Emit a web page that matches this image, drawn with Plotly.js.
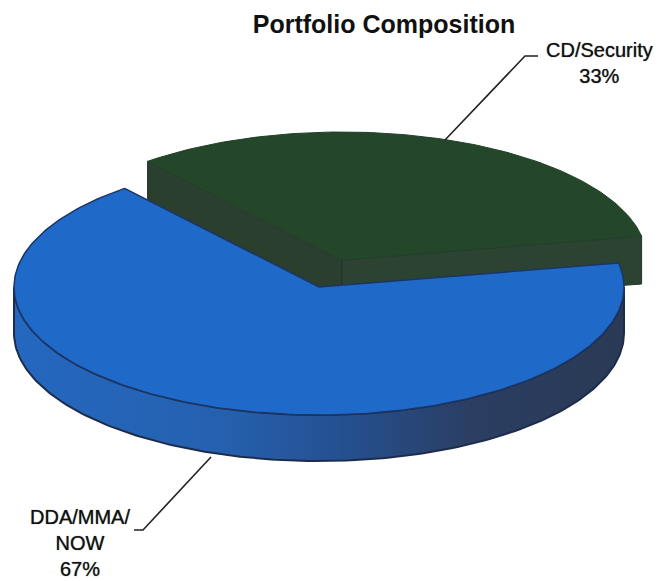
<!DOCTYPE html>
<html><head><meta charset="utf-8">
<script src="https://cdn.plot.ly/plotly-3.0.1.min.js"></script>
<style>html,body{margin:0;padding:0;background:#fff}#c{width:660px;height:581px}</style>
</head><body><div id="c"></div>
<script>
const categories = ["CD/Security", "DDA/MMA/<br>NOW"];
const shares = [33, 67];
const chartTitle = "Portfolio Composition";

const RX = 305, RY = 128, DEPTH = 46;
const startDeg = 10.8;
const centres = [[342, 260], [319, 287]];
const sweep = shares.map(s => s / (shares[0] + shares[1]) * 360);
const rng0 = [startDeg, startDeg + sweep[0]];
const rng1 = [rng0[1], rng0[1] + sweep[1]];

function arc(c, a0, a1, dy) {
  const xs = [], ys = [];
  const n = Math.ceil(Math.abs(a1 - a0));
  for (let i = 0; i <= n; i++) {
    const t = (a0 + (a1 - a0) * i / n) * Math.PI / 180;
    xs.push(c[0] + RX * Math.cos(t));
    ys.push(c[1] - RY * Math.sin(t) + dy);
  }
  return [xs, ys];
}
function poly(x, y, fill, line, name, width, grad) {
  const t = {type: "scatter", mode: "lines", x, y, fill: "toself", name,
    line: {color: line, width: width}, hoverinfo: "name", showlegend: false};
  if (grad) t.fillgradient = grad; else t.fillcolor = fill;
  return t;
}
const traces = [];

// green slice: cut walls, then top face
const [gx, gy] = arc(centres[0], rng0[0], rng0[1], 0);
const gA = [gx[gx.length - 1], gy[gy.length - 1]], gB = [gx[0], gy[0]], gC = centres[0];
traces.push(poly([gA[0], gC[0], gC[0], gA[0], gA[0]],
  [gA[1], gC[1], gC[1] + DEPTH, gA[1] + DEPTH, gA[1]], "#2a3f2e", "#22352a", categories[0], 1));
traces.push(poly([gC[0], gB[0], gB[0], gC[0], gC[0]],
  [gC[1], gB[1], gB[1] + DEPTH + 2, gC[1] + DEPTH, gC[1]], "#2c4331", "#22352a", categories[0], 1));
traces.push(poly(gx.concat([gC[0], gx[0]]), gy.concat([gC[1], gy[0]]), "#24472b", "#22402a", categories[0], 1));

// blue slice: curved wall, then top face
const [wx0, wy0] = arc(centres[1], 180, 360, 0);
const [wx1, wy1] = arc(centres[1], 360, 180, DEPTH);
traces.push(poly(wx0.concat(wx1, [wx0[0]]), wy0.concat(wy1, [wy0[0]]), null, "#1d2c4a", categories[1], 2, {
  type: "horizontal",
  colorscale: [[0, "#2468c0"], [0.35, "#2560ae"], [0.55, "#254f8e"], [0.75, "#2b3e62"], [1, "#2a3a55"]]
}));
const [bx, by] = arc(centres[1], rng1[0], rng1[1], 0);
traces.push(poly(bx.concat([centres[1][0], bx[0]]), by.concat([centres[1][1], by[0]]), "#1f69c9", "#1b3566", categories[1], 1.5));

// leader lines
const leaderX = [[445, 525, 538], [211, 143, 134]];
const leaderY = [[140, 56, 56], [457, 530, 530]];
leaderX.forEach((lx, i) => traces.push({type: "scatter", mode: "lines", x: lx, y: leaderY[i],
  line: {color: "#222", width: 1.6}, hoverinfo: "skip", showlegend: false}));

const txt = i => categories[i] + "<br>" + shares[i] + "%";
const labelFont = {family: "Liberation Sans", size: 20, color: "#111", shadow: "0 0 1px #555"};
const layout = {
  width: 660, height: 581, margin: {l: 0, r: 0, t: 0, b: 0},
  paper_bgcolor: "#fff", plot_bgcolor: "#fff",
  xaxis: {range: [0, 660], visible: false, fixedrange: true},
  yaxis: {range: [581, 0], visible: false, fixedrange: true},
  title: {text: "<b>" + chartTitle + "</b>", x: 384 / 660, xanchor: "center", y: 1 - 24 / 581, yanchor: "middle",
    font: {family: "Liberation Sans", size: 25, color: "#111"}},
  annotations: [
    {x: 599, y: 63, text: txt(0), showarrow: false, xanchor: "center", yanchor: "middle", font: labelFont},
    {x: 80, y: 543, text: txt(1), showarrow: false, xanchor: "center", yanchor: "middle", font: labelFont}
  ]
};
Plotly.newPlot("c", traces, layout, {displayModeBar: false, responsive: false});
</script></body></html>
